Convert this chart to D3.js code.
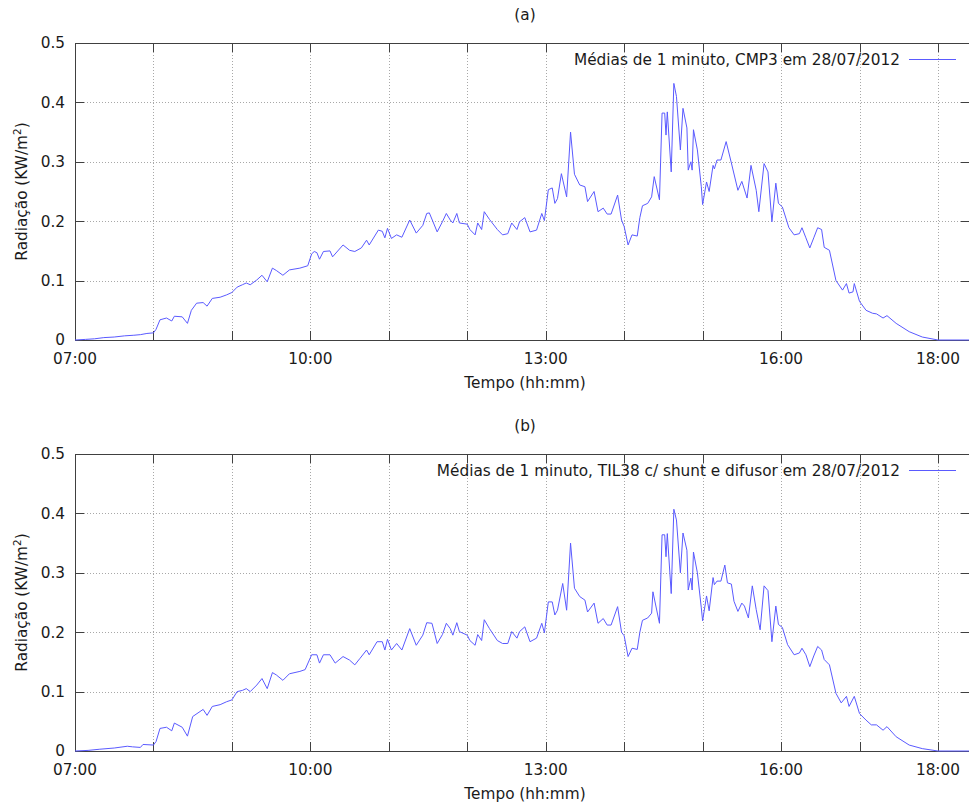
<!DOCTYPE html>
<html>
<head>
<meta charset="utf-8">
<script src="https://cdn.jsdelivr.net/npm/d3@7"></script>
<style>
  html, body { margin: 0; padding: 0; background: #fff; }
  svg { display: block; font-family: "DejaVu Sans", sans-serif; }
</style>
</head>
<body>
<svg id="chart" width="969" height="810"></svg>
<script>
// Panel captions and legend entries
const panelTitles = ["(a)", "(b)"];
const legendLabels = [
  "Médias de 1 minuto, CMP3 em 28/07/2012",
  "Médias de 1 minuto, TIL38 c/ shunt e difusor em 28/07/2012"
];
const xAxisTitle = "Tempo (hh:mm)";

// Axis ticks
const yTickValues = [0, 0.1, 0.2, 0.3, 0.4, 0.5];
const xTickHours = [7, 8, 9, 10, 11, 12, 13, 14, 15, 16, 17, 18];
const xLabeledHours = [7, 10, 13, 16, 18];

// (a) CMP3 pyranometer, 1-minute means (kW/m²)
const timesA = ["07:00","07:08","07:15","07:22","07:30","07:38","07:45","07:50","07:55","08:00","08:02","08:05","08:10","08:14","08:16","08:22","08:26","08:29","08:33","08:38","08:41","08:45","08:51","08:56","09:00","09:04","09:08","09:11","09:14","09:19","09:23","09:27","09:31","09:34","09:39","09:44","09:52","09:58","10:01","10:03","10:05","10:07","10:10","10:15","10:17","10:25","10:30","10:34","10:39","10:43","10:45","10:52","10:55","10:57","10:59","11:02","11:06","11:10","11:16","11:21","11:26","11:29","11:31","11:37","11:41","11:44","11:47","11:49","11:52","11:54","12:00","12:02","12:06","12:08","12:11","12:13","12:17","12:23","12:27","12:31","12:34","12:38","12:40","12:44","12:48","12:53","12:57","12:59","13:02","13:05","13:07","13:09","13:12","13:16","13:19","13:22","13:26","13:30","13:32","13:37","13:40","13:44","13:47","13:50","13:55","13:58","14:00","14:03","14:06","14:10","14:12","14:14","14:18","14:21","14:23","14:27","14:29","14:31","14:32","14:33","14:36","14:38","14:40","14:43","14:45","14:48","14:49","14:51","14:52","14:53","14:56","14:59","15:00","15:03","15:05","15:08","15:09","15:11","15:14","15:18","15:22","15:27","15:30","15:34","15:37","15:41","15:43","15:47","15:50","15:53","15:56","15:58","16:01","16:06","16:10","16:14","16:16","16:19","16:22","16:25","16:28","16:31","16:33","16:37","16:42","16:47","16:50","16:52","16:55","16:56","17:00","17:05","17:10","17:13","17:18","17:21","17:28","17:38","17:48","18:00","18:24"];
const valuesA = [0.000,0.001,0.002,0.004,0.005,0.007,0.008,0.009,0.011,0.012,0.018,0.034,0.037,0.032,0.040,0.039,0.028,0.050,0.062,0.063,0.057,0.070,0.072,0.076,0.080,0.089,0.093,0.096,0.093,0.101,0.109,0.098,0.121,0.117,0.109,0.118,0.121,0.125,0.145,0.149,0.147,0.136,0.149,0.150,0.140,0.160,0.151,0.149,0.155,0.168,0.160,0.185,0.183,0.172,0.188,0.171,0.177,0.173,0.202,0.180,0.193,0.213,0.214,0.182,0.199,0.213,0.202,0.197,0.213,0.197,0.195,0.186,0.177,0.197,0.186,0.216,0.203,0.186,0.177,0.179,0.197,0.186,0.199,0.206,0.182,0.185,0.213,0.201,0.253,0.256,0.230,0.238,0.280,0.241,0.350,0.279,0.261,0.258,0.233,0.250,0.216,0.222,0.212,0.212,0.244,0.202,0.191,0.160,0.177,0.175,0.206,0.226,0.230,0.241,0.275,0.236,0.382,0.382,0.345,0.384,0.283,0.432,0.410,0.320,0.390,0.357,0.286,0.300,0.286,0.354,0.320,0.258,0.228,0.266,0.250,0.294,0.288,0.303,0.303,0.334,0.298,0.252,0.267,0.239,0.294,0.252,0.216,0.297,0.283,0.199,0.264,0.230,0.224,0.189,0.177,0.179,0.189,0.172,0.155,0.172,0.189,0.186,0.156,0.151,0.100,0.084,0.095,0.079,0.081,0.095,0.065,0.050,0.045,0.044,0.037,0.041,0.028,0.014,0.005,0.000,0.000];

// (b) TIL38 with shunt and diffuser, 1-minute means (kW/m²)
const timesB = ["07:00","07:10","07:19","07:30","07:40","07:44","07:50","07:52","08:00","08:02","08:05","08:10","08:14","08:16","08:22","08:26","08:30","08:38","08:41","08:45","08:51","08:56","09:00","09:04","09:08","09:11","09:14","09:19","09:23","09:27","09:31","09:34","09:39","09:44","09:52","09:56","10:01","10:05","10:07","10:10","10:15","10:19","10:25","10:30","10:34","10:38","10:43","10:45","10:51","10:55","10:57","10:59","11:02","11:06","11:10","11:16","11:21","11:26","11:29","11:33","11:37","11:41","11:44","11:47","11:49","11:52","11:54","12:00","12:02","12:06","12:08","12:11","12:13","12:17","12:23","12:27","12:31","12:34","12:38","12:40","12:44","12:48","12:53","12:57","12:59","13:02","13:05","13:07","13:09","13:13","13:16","13:19","13:22","13:26","13:30","13:32","13:37","13:40","13:44","13:47","13:50","13:55","13:58","14:00","14:03","14:06","14:10","14:12","14:14","14:18","14:21","14:22","14:27","14:29","14:31","14:32","14:33","14:36","14:38","14:40","14:43","14:45","14:48","14:49","14:51","14:52","14:53","14:56","14:59","15:00","15:03","15:05","15:08","15:09","15:11","15:14","15:17","15:19","15:22","15:24","15:27","15:30","15:32","15:35","15:38","15:41","15:44","15:47","15:50","15:53","15:56","15:58","16:01","16:05","16:10","16:14","16:16","16:19","16:22","16:25","16:28","16:31","16:33","16:37","16:42","16:46","16:50","16:52","16:56","17:00","17:05","17:09","17:13","17:18","17:21","17:28","17:38","17:48","18:00","18:24"];
const valuesB = [0.000,0.001,0.003,0.005,0.008,0.007,0.006,0.011,0.010,0.016,0.038,0.040,0.034,0.047,0.040,0.025,0.058,0.070,0.060,0.075,0.078,0.083,0.086,0.100,0.102,0.105,0.100,0.111,0.122,0.105,0.132,0.128,0.119,0.130,0.134,0.137,0.162,0.162,0.148,0.162,0.162,0.148,0.159,0.153,0.145,0.156,0.170,0.162,0.184,0.184,0.170,0.188,0.170,0.181,0.170,0.206,0.178,0.195,0.216,0.215,0.181,0.196,0.215,0.206,0.195,0.216,0.201,0.195,0.186,0.178,0.196,0.186,0.221,0.206,0.186,0.181,0.181,0.201,0.190,0.201,0.209,0.184,0.190,0.215,0.199,0.251,0.251,0.229,0.237,0.282,0.237,0.350,0.274,0.260,0.254,0.234,0.249,0.215,0.223,0.212,0.212,0.243,0.200,0.194,0.159,0.173,0.171,0.200,0.220,0.224,0.232,0.268,0.215,0.364,0.364,0.327,0.366,0.265,0.407,0.389,0.300,0.367,0.338,0.271,0.291,0.271,0.335,0.300,0.241,0.219,0.261,0.236,0.292,0.280,0.286,0.286,0.313,0.283,0.281,0.252,0.235,0.249,0.244,0.224,0.278,0.238,0.204,0.278,0.270,0.184,0.244,0.213,0.208,0.179,0.162,0.165,0.173,0.162,0.142,0.160,0.176,0.170,0.154,0.145,0.097,0.081,0.092,0.075,0.092,0.063,0.052,0.044,0.044,0.035,0.041,0.024,0.010,0.004,0.000,0.000];

const toMinutes = s => { const [h, m] = s.split(":").map(Number); return h * 60 + m; };
const fmtHour = h => String(h).padStart(2, "0") + ":00";

const svg = d3.select("#chart");
const plotLeft = 75, plotRight = 970, plotHeight = 297;
const panelTops = [43, 454];
const lineColor = "#5a5aff";
const textColor = "#1a1a1a";
const fontSize = 15.3;

const x = d3.scaleLinear().domain([420, 1104.5]).range([plotLeft, plotRight]);

const panels = [
  { times: timesA, values: valuesA },
  { times: timesB, values: valuesB }
];

panels.forEach((p, i) => {
  const top = panelTops[i];
  const bottom = top + plotHeight;
  const y = d3.scaleLinear().domain([0, 0.5]).range([bottom, top]);
  const g = svg.append("g");

  // dotted grid
  const grid = g.append("g")
    .attr("stroke", "#a8a8a8").attr("stroke-width", 1).attr("stroke-dasharray", "1,2");
  grid.selectAll("line.v").data(xTickHours.filter(h => h > 7)).join("line")
    .attr("x1", h => Math.round(x(h * 60)) + 0.5).attr("x2", h => Math.round(x(h * 60)) + 0.5)
    .attr("y1", top).attr("y2", bottom);
  grid.selectAll("line.h").data(yTickValues.filter(v => v > 0 && v < 0.5)).join("line")
    .attr("class", "h")
    .attr("x1", plotLeft).attr("x2", plotRight)
    .attr("y1", v => Math.round(y(v)) + 0.5).attr("y2", v => Math.round(y(v)) + 0.5);

  // frame
  g.append("rect")
    .attr("x", plotLeft + 0.5).attr("y", top + 0.5)
    .attr("width", plotRight - plotLeft).attr("height", plotHeight)
    .attr("fill", "none").attr("stroke", "#404040").attr("stroke-width", 1);

  // inward ticks on all four sides
  const tickLen = 9;
  const ticks = g.append("g").attr("stroke", "#404040").attr("stroke-width", 1);
  xTickHours.forEach(h => {
    const xx = Math.round(x(h * 60)) + 0.5;
    ticks.append("line").attr("x1", xx).attr("x2", xx).attr("y1", bottom).attr("y2", bottom - tickLen);
    ticks.append("line").attr("x1", xx).attr("x2", xx).attr("y1", top).attr("y2", top + tickLen);
  });
  yTickValues.forEach(v => {
    const yy = Math.round(y(v)) + 0.5;
    ticks.append("line").attr("x1", plotLeft).attr("x2", plotLeft + tickLen).attr("y1", yy).attr("y2", yy);
    ticks.append("line").attr("x1", plotRight - tickLen).attr("x2", plotRight).attr("y1", yy).attr("y2", yy);
  });

  // y tick labels
  g.selectAll("text.yl").data(yTickValues).join("text")
    .attr("x", 65).attr("y", v => y(v)).attr("dy", "0.35em")
    .attr("text-anchor", "end").attr("font-size", fontSize).attr("fill", textColor)
    .text(v => v === 0 ? "0" : d3.format(".1f")(v));

  // x tick labels
  g.selectAll("text.xl").data(xLabeledHours).join("text")
    .attr("x", h => x(h * 60)).attr("y", bottom + 24)
    .attr("text-anchor", "middle").attr("font-size", fontSize).attr("fill", textColor)
    .text(fmtHour);

  // axis titles
  g.append("text")
    .attr("x", 525).attr("y", bottom + 48)
    .attr("text-anchor", "middle").attr("font-size", fontSize).attr("fill", textColor)
    .text(xAxisTitle);

  const yl = g.append("text")
    .attr("transform", `translate(27,${(top + bottom) / 2}) rotate(-90)`)
    .attr("text-anchor", "middle").attr("font-size", fontSize).attr("fill", textColor);
  yl.append("tspan").text("Radiação (KW/m");
  yl.append("tspan").attr("font-size", 10.5).attr("dy", -6).text("2");
  yl.append("tspan").attr("dy", 6).text(")");

  // panel title
  g.append("text")
    .attr("x", 525).attr("y", top - 23)
    .attr("text-anchor", "middle").attr("font-size", fontSize).attr("fill", textColor)
    .text(panelTitles[i]);

  // data line
  const pts = p.times.map((t, k) => [toMinutes(t), p.values[k]]);
  g.append("path")
    .datum(pts)
    .attr("fill", "none").attr("stroke", lineColor).attr("stroke-width", 1)
    .attr("stroke-linejoin", "round")
    .attr("d", d3.line().x(d => x(d[0])).y(d => y(d[1])));

  // legend
  const ly = top + 16.5;
  g.append("text")
    .attr("x", 900).attr("y", ly).attr("dy", "0.35em")
    .attr("text-anchor", "end").attr("font-size", fontSize).attr("fill", textColor)
    .text(legendLabels[i]);
  g.append("line")
    .attr("x1", 909).attr("x2", 956).attr("y1", ly).attr("y2", ly)
    .attr("stroke", lineColor).attr("stroke-width", 1);
});
</script>
</body>
</html>
